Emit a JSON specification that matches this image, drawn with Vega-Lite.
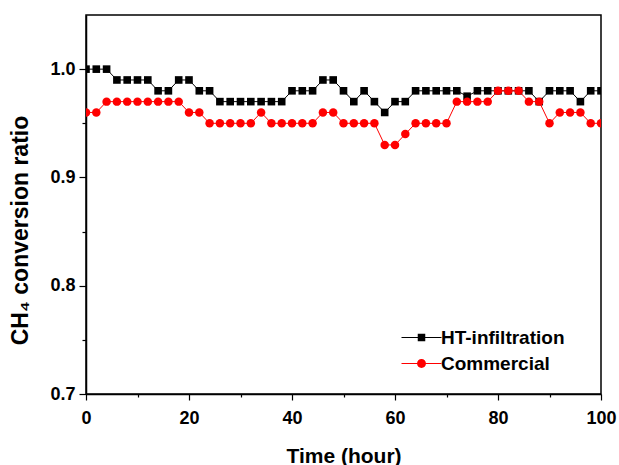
{
  "$schema": "https://vega.github.io/schema/vega-lite/v6.json",
  "width": 515,
  "height": 379,
  "autosize": "none",
  "padding": {"left": 86, "top": 15, "right": 18, "bottom": 71},
  "background": "white",
  "config": {
    "view": {"stroke": "black", "strokeWidth": 1.5},
    "font": "Liberation Sans",
    "axis": {
      "grid": false,
      "domainColor": "black",
      "domainWidth": 1.5,
      "tickColor": "black",
      "tickWidth": 1.2,
      "labelFont": "Liberation Sans",
      "labelFontWeight": "bold",
      "labelFontSize": 18,
      "labelColor": "black",
      "titleFont": "Liberation Sans",
      "titleFontWeight": "bold",
      "titleColor": "black"
    },
    "legend": {
      "orient": "none",
      "legendX": 326,
      "legendY": 313,
      "padding": 0,
      "symbolSize": 256,
      "symbolStrokeWidth": 0,
      "symbolOpacity": 1,
      "labelFont": "Liberation Sans",
      "labelFontWeight": "bold",
      "labelFontSize": 19,
      "labelColor": "black",
      "labelOffset": 10,
      "rowPadding": 6
    }
  },
  "datasets": {
    "conv": [
      {"hour": 0, "ratio": 1.00, "series": "HT-infiltration"},
      {"hour": 2, "ratio": 1.00, "series": "HT-infiltration"},
      {"hour": 4, "ratio": 1.00, "series": "HT-infiltration"},
      {"hour": 6, "ratio": 0.99, "series": "HT-infiltration"},
      {"hour": 8, "ratio": 0.99, "series": "HT-infiltration"},
      {"hour": 10, "ratio": 0.99, "series": "HT-infiltration"},
      {"hour": 12, "ratio": 0.99, "series": "HT-infiltration"},
      {"hour": 14, "ratio": 0.98, "series": "HT-infiltration"},
      {"hour": 16, "ratio": 0.98, "series": "HT-infiltration"},
      {"hour": 18, "ratio": 0.99, "series": "HT-infiltration"},
      {"hour": 20, "ratio": 0.99, "series": "HT-infiltration"},
      {"hour": 22, "ratio": 0.98, "series": "HT-infiltration"},
      {"hour": 24, "ratio": 0.98, "series": "HT-infiltration"},
      {"hour": 26, "ratio": 0.97, "series": "HT-infiltration"},
      {"hour": 28, "ratio": 0.97, "series": "HT-infiltration"},
      {"hour": 30, "ratio": 0.97, "series": "HT-infiltration"},
      {"hour": 32, "ratio": 0.97, "series": "HT-infiltration"},
      {"hour": 34, "ratio": 0.97, "series": "HT-infiltration"},
      {"hour": 36, "ratio": 0.97, "series": "HT-infiltration"},
      {"hour": 38, "ratio": 0.97, "series": "HT-infiltration"},
      {"hour": 40, "ratio": 0.98, "series": "HT-infiltration"},
      {"hour": 42, "ratio": 0.98, "series": "HT-infiltration"},
      {"hour": 44, "ratio": 0.98, "series": "HT-infiltration"},
      {"hour": 46, "ratio": 0.99, "series": "HT-infiltration"},
      {"hour": 48, "ratio": 0.99, "series": "HT-infiltration"},
      {"hour": 50, "ratio": 0.98, "series": "HT-infiltration"},
      {"hour": 52, "ratio": 0.97, "series": "HT-infiltration"},
      {"hour": 54, "ratio": 0.98, "series": "HT-infiltration"},
      {"hour": 56, "ratio": 0.97, "series": "HT-infiltration"},
      {"hour": 58, "ratio": 0.96, "series": "HT-infiltration"},
      {"hour": 60, "ratio": 0.97, "series": "HT-infiltration"},
      {"hour": 62, "ratio": 0.97, "series": "HT-infiltration"},
      {"hour": 64, "ratio": 0.98, "series": "HT-infiltration"},
      {"hour": 66, "ratio": 0.98, "series": "HT-infiltration"},
      {"hour": 68, "ratio": 0.98, "series": "HT-infiltration"},
      {"hour": 70, "ratio": 0.98, "series": "HT-infiltration"},
      {"hour": 72, "ratio": 0.98, "series": "HT-infiltration"},
      {"hour": 74, "ratio": 0.975, "series": "HT-infiltration"},
      {"hour": 76, "ratio": 0.98, "series": "HT-infiltration"},
      {"hour": 78, "ratio": 0.98, "series": "HT-infiltration"},
      {"hour": 80, "ratio": 0.98, "series": "HT-infiltration"},
      {"hour": 82, "ratio": 0.98, "series": "HT-infiltration"},
      {"hour": 84, "ratio": 0.98, "series": "HT-infiltration"},
      {"hour": 86, "ratio": 0.98, "series": "HT-infiltration"},
      {"hour": 88, "ratio": 0.97, "series": "HT-infiltration"},
      {"hour": 90, "ratio": 0.98, "series": "HT-infiltration"},
      {"hour": 92, "ratio": 0.98, "series": "HT-infiltration"},
      {"hour": 94, "ratio": 0.98, "series": "HT-infiltration"},
      {"hour": 96, "ratio": 0.97, "series": "HT-infiltration"},
      {"hour": 98, "ratio": 0.98, "series": "HT-infiltration"},
      {"hour": 100, "ratio": 0.98, "series": "HT-infiltration"},
      {"hour": 0, "ratio": 0.96, "series": "Commercial"},
      {"hour": 2, "ratio": 0.96, "series": "Commercial"},
      {"hour": 4, "ratio": 0.97, "series": "Commercial"},
      {"hour": 6, "ratio": 0.97, "series": "Commercial"},
      {"hour": 8, "ratio": 0.97, "series": "Commercial"},
      {"hour": 10, "ratio": 0.97, "series": "Commercial"},
      {"hour": 12, "ratio": 0.97, "series": "Commercial"},
      {"hour": 14, "ratio": 0.97, "series": "Commercial"},
      {"hour": 16, "ratio": 0.97, "series": "Commercial"},
      {"hour": 18, "ratio": 0.97, "series": "Commercial"},
      {"hour": 20, "ratio": 0.96, "series": "Commercial"},
      {"hour": 22, "ratio": 0.96, "series": "Commercial"},
      {"hour": 24, "ratio": 0.95, "series": "Commercial"},
      {"hour": 26, "ratio": 0.95, "series": "Commercial"},
      {"hour": 28, "ratio": 0.95, "series": "Commercial"},
      {"hour": 30, "ratio": 0.95, "series": "Commercial"},
      {"hour": 32, "ratio": 0.95, "series": "Commercial"},
      {"hour": 34, "ratio": 0.96, "series": "Commercial"},
      {"hour": 36, "ratio": 0.95, "series": "Commercial"},
      {"hour": 38, "ratio": 0.95, "series": "Commercial"},
      {"hour": 40, "ratio": 0.95, "series": "Commercial"},
      {"hour": 42, "ratio": 0.95, "series": "Commercial"},
      {"hour": 44, "ratio": 0.95, "series": "Commercial"},
      {"hour": 46, "ratio": 0.96, "series": "Commercial"},
      {"hour": 48, "ratio": 0.96, "series": "Commercial"},
      {"hour": 50, "ratio": 0.95, "series": "Commercial"},
      {"hour": 52, "ratio": 0.95, "series": "Commercial"},
      {"hour": 54, "ratio": 0.95, "series": "Commercial"},
      {"hour": 56, "ratio": 0.95, "series": "Commercial"},
      {"hour": 58, "ratio": 0.93, "series": "Commercial"},
      {"hour": 60, "ratio": 0.93, "series": "Commercial"},
      {"hour": 62, "ratio": 0.94, "series": "Commercial"},
      {"hour": 64, "ratio": 0.95, "series": "Commercial"},
      {"hour": 66, "ratio": 0.95, "series": "Commercial"},
      {"hour": 68, "ratio": 0.95, "series": "Commercial"},
      {"hour": 70, "ratio": 0.95, "series": "Commercial"},
      {"hour": 72, "ratio": 0.97, "series": "Commercial"},
      {"hour": 74, "ratio": 0.97, "series": "Commercial"},
      {"hour": 76, "ratio": 0.97, "series": "Commercial"},
      {"hour": 78, "ratio": 0.97, "series": "Commercial"},
      {"hour": 80, "ratio": 0.98, "series": "Commercial"},
      {"hour": 82, "ratio": 0.98, "series": "Commercial"},
      {"hour": 84, "ratio": 0.98, "series": "Commercial"},
      {"hour": 86, "ratio": 0.97, "series": "Commercial"},
      {"hour": 88, "ratio": 0.97, "series": "Commercial"},
      {"hour": 90, "ratio": 0.95, "series": "Commercial"},
      {"hour": 92, "ratio": 0.96, "series": "Commercial"},
      {"hour": 94, "ratio": 0.96, "series": "Commercial"},
      {"hour": 96, "ratio": 0.96, "series": "Commercial"},
      {"hour": 98, "ratio": 0.95, "series": "Commercial"},
      {"hour": 100, "ratio": 0.95, "series": "Commercial"}
    ]
  },
  "data": {"name": "conv"},
  "encoding": {
    "x": {
      "field": "hour",
      "type": "quantitative",
      "scale": {"domain": [0, 100], "nice": false, "zero": false},
      "axis": {
        "title": "Time (hour)",
        "titleFontSize": 21,
        "titlePadding": 18,
        "values": [0, 10, 20, 30, 40, 50, 60, 70, 80, 90, 100],
        "labelExpr": "datum.value % 20 === 0 ? datum.label : ''",
        "labelOverlap": false,
        "labelFlush": false,
        "labelPadding": 9,
        "tickSize": {"condition": {"test": "datum.value % 20 === 0", "value": 6}, "value": 3}
      }
    },
    "y": {
      "field": "ratio",
      "type": "quantitative",
      "scale": {"domain": [0.7, 1.05], "nice": false, "zero": false},
      "axis": {
        "title": "CH₄ conversion ratio",
        "titleFontSize": 23,
        "titlePadding": 17,
        "titleY": 215,
        "values": [0.7, 0.75, 0.8, 0.85, 0.9, 0.95, 1.0],
        "format": ".1f",
        "labelExpr": "round(datum.value * 100) % 10 === 0 ? datum.label : ''",
        "labelOverlap": false,
        "labelFlush": false,
        "labelPadding": 4,
        "tickSize": {"condition": {"test": "round(datum.value * 100) % 10 === 0", "value": 7}, "value": 4}
      }
    }
  },
  "layer": [
    {
      "transform": [{"filter": "datum.series === 'HT-infiltration'"}],
      "mark": {"type": "line", "color": "black", "strokeWidth": 1, "clip": true}
    },
    {
      "transform": [{"filter": "datum.series === 'HT-infiltration'"}],
      "mark": {"type": "point", "shape": "square", "filled": true, "color": "black", "size": 58, "opacity": 1, "clip": true}
    },
    {
      "transform": [{"filter": "datum.series === 'Commercial'"}],
      "mark": {"type": "line", "color": "#ff0000", "strokeWidth": 1, "clip": true}
    },
    {
      "transform": [{"filter": "datum.series === 'Commercial'"}],
      "mark": {"type": "point", "shape": "circle", "filled": true, "color": "#ff0000", "size": 72, "opacity": 1, "clip": true}
    },
    {
      "transform": [{"filter": "datum.hour < 0"}],
      "mark": {"type": "point", "filled": true, "opacity": 1},
      "encoding": {
        "color": {
          "field": "series",
          "type": "nominal",
          "scale": {"domain": ["HT-infiltration", "Commercial"], "range": ["black", "#ff0000"]},
          "legend": {"title": null}
        },
        "shape": {
          "field": "series",
          "type": "nominal",
          "scale": {
            "domain": ["HT-infiltration", "Commercial"],
            "range": [
              "M-2.5,-0.06H2.5V0.06H-2.5Z M-0.47,-0.47H0.47V0.47H-0.47Z",
              "M-2.5,-0.06H2.5V0.06H-2.5Z M-0.56,0A0.56,0.56 0 1,1 0.56,0A0.56,0.56 0 1,1 -0.56,0Z"
            ]
          },
          "legend": {"title": null}
        }
      }
    }
  ]
}
